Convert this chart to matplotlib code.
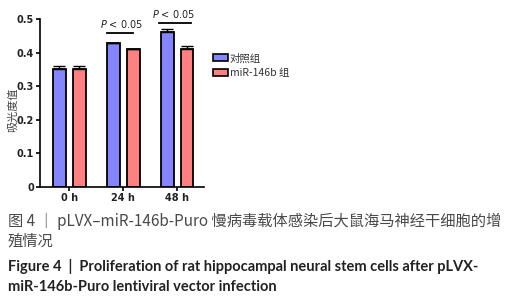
import matplotlib
matplotlib.use("Agg")
import matplotlib.pyplot as plt
from matplotlib.patches import Patch

plt.rcParams['font.family'] = ['DejaVu Sans', 'Noto Sans CJK SC']

categories = ["0 h", "24 h", "48 h"]
control = [0.35, 0.43, 0.46]
control_err = [0.01, 0.0, 0.01]
mir = [0.35, 0.41, 0.41]
mir_err = [0.01, 0.0, 0.01]
series_names = ["对照组", "miR-146b 组"]
yticks = [0, 0.1, 0.2, 0.3, 0.4, 0.5]
ytick_labels = ["0", "0.1", "0.2", "0.3", "0.4", "0.5"]
sig_text = r"$\it{P}$ < 0.05"

blue = "#8585ff"
red = "#ff8080"

fig = plt.figure(figsize=(5.08, 3.0), dpi=100)
ax = fig.add_axes([40/508, 1-187/300, 164/508, 168/300])

x = list(range(len(categories)))
w = 0.24
off = 0.185
ax.bar([i - off for i in x], control, width=w, color=blue, edgecolor="black", linewidth=1.3, zorder=2)
ax.bar([i + off for i in x], mir, width=w, color=red, edgecolor="black", linewidth=1.3, zorder=2)
ax.errorbar([i - off for i in x], control, yerr=[[0]*3, control_err], fmt="none", ecolor="black", elinewidth=1, capsize=4, capthick=1, zorder=3)
ax.errorbar([i + off for i in x], mir, yerr=[[0]*3, mir_err], fmt="none", ecolor="black", elinewidth=1, capsize=4, capthick=1, zorder=3)

ax.set_xlim(-0.54, 2.5)
ax.set_ylim(0, 0.5)
ax.set_yticks(yticks)
ax.set_yticklabels(ytick_labels)
ax.set_xticks(x)
ax.set_xticklabels(categories)
for s in ["top", "right"]:
    ax.spines[s].set_visible(False)
for s in ["left", "bottom"]:
    ax.spines[s].set_linewidth(1.2)
ax.tick_params(axis="both", direction="out", length=3, width=1.2, labelsize=7, pad=1.5)
for lab in ax.get_xticklabels() + ax.get_yticklabels():
    lab.set_fontweight("bold")
    lab.set_color("#222222")

# significance
ax.plot([0.70, 1.185], [0.457, 0.457], color="black", lw=1.3, clip_on=False)
ax.text(0.98, 0.468, sig_text, ha="center", va="bottom", fontsize=7, color="#222222", clip_on=False)
ax.plot([1.67, 2.26], [0.487, 0.487], color="black", lw=1.3, clip_on=False)
ax.text(1.93, 0.498, sig_text, ha="center", va="bottom", fontsize=7, color="#222222", clip_on=False)

ax.set_ylabel("吸光度值", family=['Noto Sans CJK SC', 'DejaVu Sans'], fontsize=8, color="#444444",
              va="center", ha="center")
ax.yaxis.set_label_coords((13 - 40) / 164, (187 - 110) / 168)

handles = [Patch(facecolor=blue, edgecolor="black", linewidth=1.2),
           Patch(facecolor=red, edgecolor="black", linewidth=1.2)]
leg = fig.legend(handles, series_names, loc="upper left", bbox_to_anchor=(209/508, 1-49/300),
                 frameon=False, handlelength=1.4, handleheight=0.6,
                 handletextpad=0.2, labelspacing=0.45, borderaxespad=0,
                 prop={'family': ['Noto Sans CJK SC', 'DejaVu Sans'], 'size': 7.5})
for t in leg.get_texts():
    t.set_color("#333333")

cn = ['Noto Sans CJK SC', 'DejaVu Sans']
fig.text(8/508, 1-221/300, "图 4 ｜ pLVX–miR-146b-Puro 慢病毒载体感染后大鼠海马神经干细胞的增",
         family=cn, fontsize=11.0, color="#4a4a4a", va="center", ha="left")
fig.text(8/508, 1-241/300, "殖情况", family=cn, fontsize=11.0, color="#4a4a4a", va="center", ha="left")
fig.text(8/508, 1-267/300, "Figure 4  |  Proliferation of rat hippocampal neural stem cells after pLVX-",
         family=['Lato', 'DejaVu Sans'], fontweight="bold", fontsize=10.5, color="#222222", va="center", ha="left")
fig.text(8/508, 1-287/300, "miR-146b-Puro lentiviral vector infection",
         family=['Lato', 'DejaVu Sans'], fontweight="bold", fontsize=10.5, color="#222222", va="center", ha="left")

fig.savefig("out.png", dpi=100)
